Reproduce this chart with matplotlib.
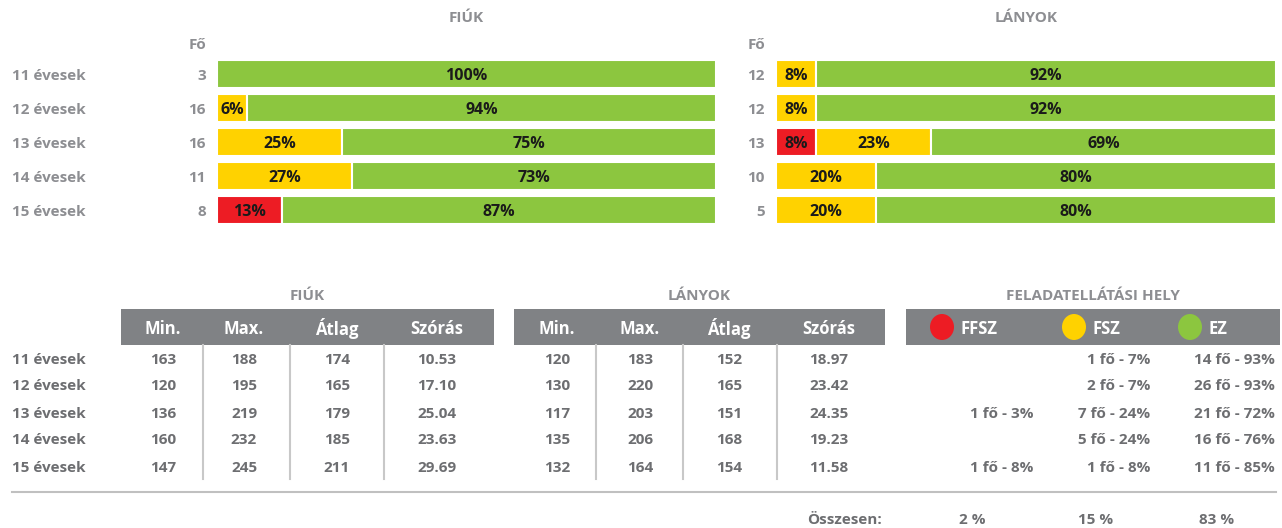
import matplotlib
matplotlib.use("Agg")
import matplotlib.pyplot as plt
from matplotlib.patches import Rectangle, Ellipse
from matplotlib.transforms import blended_transform_factory

# ---- adatok ----
KOROK = ["11 évesek", "12 évesek", "13 évesek", "14 évesek", "15 évesek"]

FIU_FO = [3, 16, 16, 11, 8]
FIU_FFSZ = [0, 0, 0, 0, 13]
FIU_FSZ = [0, 6, 25, 27, 0]
FIU_EZ = [100, 94, 75, 73, 87]

LANY_FO = [12, 12, 13, 10, 5]
LANY_FFSZ = [0, 0, 8, 0, 0]
LANY_FSZ = [8, 8, 23, 20, 20]
LANY_EZ = [92, 92, 69, 80, 80]

STAT_FEJ = ["Min.", "Max.", "Átlag", "Szórás"]
FIU_MIN = ["163", "120", "136", "160", "147"]
FIU_MAX = ["188", "195", "219", "232", "245"]
FIU_ATLAG = ["174", "165", "179", "185", "211"]
FIU_SZORAS = ["10.53", "17.10", "25.04", "23.63", "29.69"]

LANY_MIN = ["120", "130", "117", "135", "132"]
LANY_MAX = ["183", "220", "203", "206", "164"]
LANY_ATLAG = ["152", "165", "151", "168", "154"]
LANY_SZORAS = ["18.97", "23.42", "24.35", "19.23", "11.58"]

HELY_FEJ = ["FFSZ", "FSZ", "EZ"]
HELY_FFSZ = ["", "", "1 fő - 3%", "", "1 fő - 8%"]
HELY_FSZ = ["1 fő - 7%", "2 fő - 7%", "7 fő - 24%", "5 fő - 24%", "1 fő - 8%"]
HELY_EZ = ["14 fő - 93%", "26 fő - 93%", "21 fő - 72%", "16 fő - 76%", "11 fő - 85%"]
OSSZESEN = ["2 %", "15 %", "83 %"]

# ---- stilus ----
PIROS, SARGA, ZOLD = "#ED1C24", "#FFD200", "#8CC63F"
SZURKE = "#8d8e92"
SZOVEG = "#6d6e71"
FEJ_HATTER = "#808285"
FONT = "Open Sans"
W, H = 1282, 528
DY = 1.5  # szoveg fuggoleges korrekcio (px)

plt.rcParams["font.family"] = [FONT, "DejaVu Sans"]

fig = plt.figure(figsize=(W / 100, H / 100), dpi=100)

# pixel koordinatas hatter-tengely a szovegekhez es tablazatokhoz
bg = fig.add_axes([0, 0, 1, 1])
bg.set_xlim(0, W)
bg.set_ylim(H, 0)
bg.axis("off")


def sav_tengely(x0, x1, y0, y1):
    ax = fig.add_axes([x0 / W, 1 - y1 / H, (x1 - x0) / W, (y1 - y0) / H])
    ax.set_xlim(0, 100)
    ax.set_ylim(len(KOROK) - 0.5, -0.5)
    ax.axis("off")
    return ax


def savok(ax, fo, ffsz, fsz, ez, cim, cim_x, fo_x, sor_cimke):
    y = list(range(len(KOROK)))
    dy = DY / 34
    bal = [0] * len(KOROK)
    for vals, szin in ((ffsz, PIROS), (fsz, SARGA), (ez, ZOLD)):
        ax.barh(y, vals, left=bal, height=0.8, color=szin,
                edgecolor="white", linewidth=1.5)
        for i, v in enumerate(vals):
            if v > 0:
                ax.text(bal[i] + v / 2, i + dy, f"{v}%", ha="center", va="center",
                        fontsize=11.5, fontweight="bold", color="#1a1a1a")
        bal = [b + v for b, v in zip(bal, vals)]
    tr = blended_transform_factory(bg.transData, ax.transData)
    for i, n in enumerate(fo):
        ax.text(fo_x, i + dy, str(n), transform=tr, ha="right", va="center",
                fontsize=11, fontweight="bold", color=SZURKE)
        if sor_cimke:
            ax.text(12, i + dy, KOROK[i], transform=tr, ha="left", va="center",
                    fontsize=11, fontweight="bold", color=SZURKE)
    bg.text(fo_x, 45, "Fő", ha="right", va="center", fontsize=11,
            fontweight="bold", color=SZURKE)
    bg.text(cim_x, 18, cim, ha="center", va="center", fontsize=11,
            fontweight="bold", color=SZURKE)


ax_f = sav_tengely(217, 716, 57, 227)
savok(ax_f, FIU_FO, FIU_FFSZ, FIU_FSZ, FIU_EZ, "FIÚK", 466, 206, True)
ax_l = sav_tengely(776, 1276, 57, 227)
savok(ax_l, LANY_FO, LANY_FFSZ, LANY_FSZ, LANY_EZ, "LÁNYOK", 1026, 765, False)

# ---- tablazatok ----
SOR_Y = [358, 385, 412, 439, 466]
FEJ_Y0, FEJ_Y1 = 309, 345


def stat_tabla(x0, x1, oszlop_x, elvalaszto_x, oszlopok, cim):
    bg.add_patch(Rectangle((x0, FEJ_Y0), x1 - x0, FEJ_Y1 - FEJ_Y0,
                           color=FEJ_HATTER, lw=0))
    bg.text((x0 + x1) / 2, 295 + DY, cim, ha="center", va="center", fontsize=11,
            fontweight="bold", color=SZURKE)
    for cx, fej in zip(oszlop_x, STAT_FEJ):
        bg.text(cx, 327 + DY, fej, ha="center", va="center", fontsize=12,
                fontweight="bold", color="white")
    for cx, vals in zip(oszlop_x, oszlopok):
        for y, v in zip(SOR_Y, vals):
            bg.text(cx, y + DY, v, ha="center", va="center", fontsize=11,
                    fontweight="bold", color=SZOVEG)
    for sx in elvalaszto_x:
        bg.plot([sx, sx], [FEJ_Y1, 479], color="#c8c8c8", lw=1.5)


for y, k in zip(SOR_Y, KOROK):
    bg.text(12, y + DY, k, ha="left", va="center", fontsize=11,
            fontweight="bold", color=SZOVEG)

stat_tabla(121, 494, [163, 244, 337, 437], [203, 290, 384],
           [FIU_MIN, FIU_MAX, FIU_ATLAG, FIU_SZORAS], "FIÚK")
stat_tabla(514, 885, [557, 640, 729, 829], [596, 683, 777],
           [LANY_MIN, LANY_MAX, LANY_ATLAG, LANY_SZORAS], "LÁNYOK")

# feladatellatasi hely
bg.add_patch(Rectangle((906, FEJ_Y0), 1280 - 906, FEJ_Y1 - FEJ_Y0,
                       color=FEJ_HATTER, lw=0))
bg.text(1093, 295 + DY, "FELADATELLÁTÁSI HELY", ha="center", va="center",
        fontsize=11, fontweight="bold", color=SZURKE)
for kx, fej, szin in zip([942, 1074, 1190], HELY_FEJ, [PIROS, SARGA, ZOLD]):
    bg.add_patch(Ellipse((kx, 327), 24, 26, color=szin, lw=0))
    bg.text(kx + 19, 327 + DY, fej, ha="left", va="center", fontsize=12,
            fontweight="bold", color="white")
for rx, vals in zip([1033, 1150, 1275], [HELY_FFSZ, HELY_FSZ, HELY_EZ]):
    for y, v in zip(SOR_Y, vals):
        if v:
            bg.text(rx, y + DY, v, ha="right", va="center", fontsize=11,
                    fontweight="bold", color=SZOVEG)

bg.plot([12, 1276], [492, 492], color="#c0c0c0", lw=1.5)
bg.text(882, 518 + DY, "Összesen:", ha="right", va="center", fontsize=11,
        fontweight="bold", color=SZOVEG)
for cx, v in zip([972, 1096, 1217], OSSZESEN):
    bg.text(cx, 518 + DY, v, ha="center", va="center", fontsize=11,
            fontweight="bold", color=SZOVEG)

fig.savefig("out.png", dpi=100)
